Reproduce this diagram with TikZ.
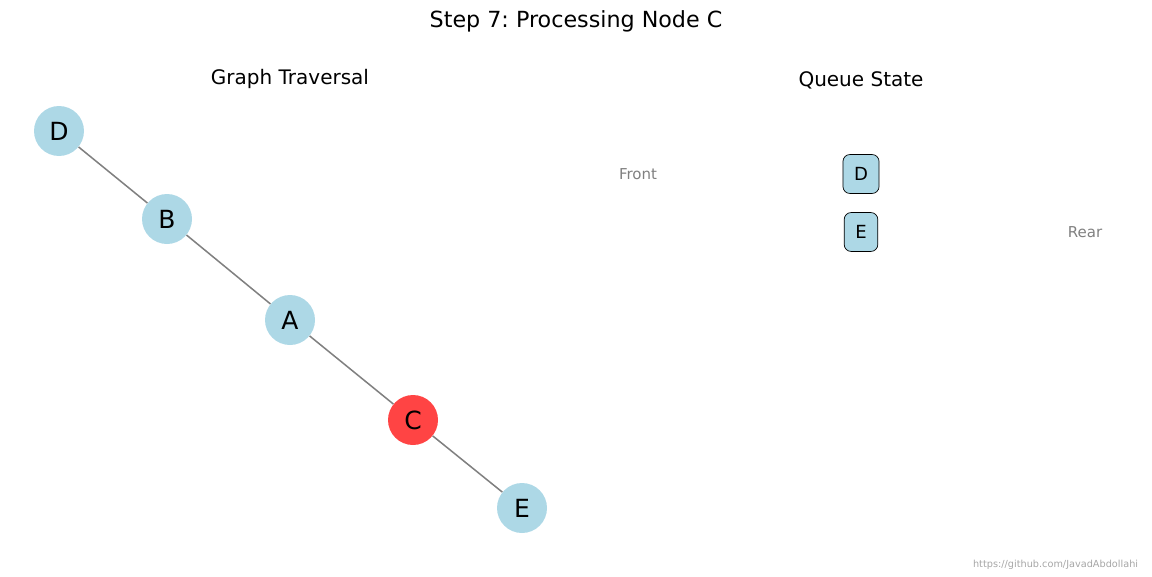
\documentclass[tikz,border=0pt]{standalone}
\usepackage{fontspec}
\setmainfont{DejaVu Sans}
\frenchspacing
\definecolor{nodeblue}{HTML}{ADD8E6}
\definecolor{nodered}{HTML}{FF4444}
\tikzset{
  vertex/.style={circle, fill=nodeblue, minimum size=36pt, inner sep=0pt, font=\fontsize{18}{18}\selectfont},
  current/.style={vertex, fill=nodered},
  edge/.style={draw=gray, line width=1.1pt},
  qbox/.style={draw=black, fill=nodeblue, rounded corners=5pt, line width=0.5pt, minimum height=28pt, inner xsep=8pt, inner ysep=0pt, font=\fontsize{13}{13}\selectfont},
  side/.style={text=gray, font=\fontsize{10.8}{10.8}\selectfont}
}
\begin{document}
\begin{tikzpicture}[x=0.72pt, y=-0.72pt]
  \useasboundingbox (0,0) rectangle (1152,576);
% titles
  \node (title) at (576,21) {\fontsize{16}{16}\selectfont Step 7: Processing Node C};
  \node (gtitle) at (290,79) {\fontsize{14.4}{14.4}\selectfont Graph Traversal};
  \node (qtitle) at (861,80) {\fontsize{14.4}{14.4}\selectfont Queue State};

% graph
  \node[vertex] (D) at (59,131) {D};
  \node[vertex] (B) at (167,219) {B};
  \node[vertex] (A) at (290,320) {A};
  \node[current] (C) at (413,420) {C};
  \node[vertex] (E) at (522,508) {E};
  \draw[edge] (D) -- (B); \draw[edge] (B) -- (A);
  \draw[edge] (A) -- (C); \draw[edge] (C) -- (E);

% queue
  \node[qbox] (qD) at (861,174) {D};
  \node[qbox] (qE) at (861,232) {E};
  \node[side] (front) at (638,174) {Front};
  \node[side] (rear) at (1085,232) {Rear};

  \node[anchor=east, text=gray!70, font=\fontsize{7}{7}\selectfont] (credit) at (1143,565) {https://github.com/JavadAbdollahi};
\end{tikzpicture}
\end{document}
